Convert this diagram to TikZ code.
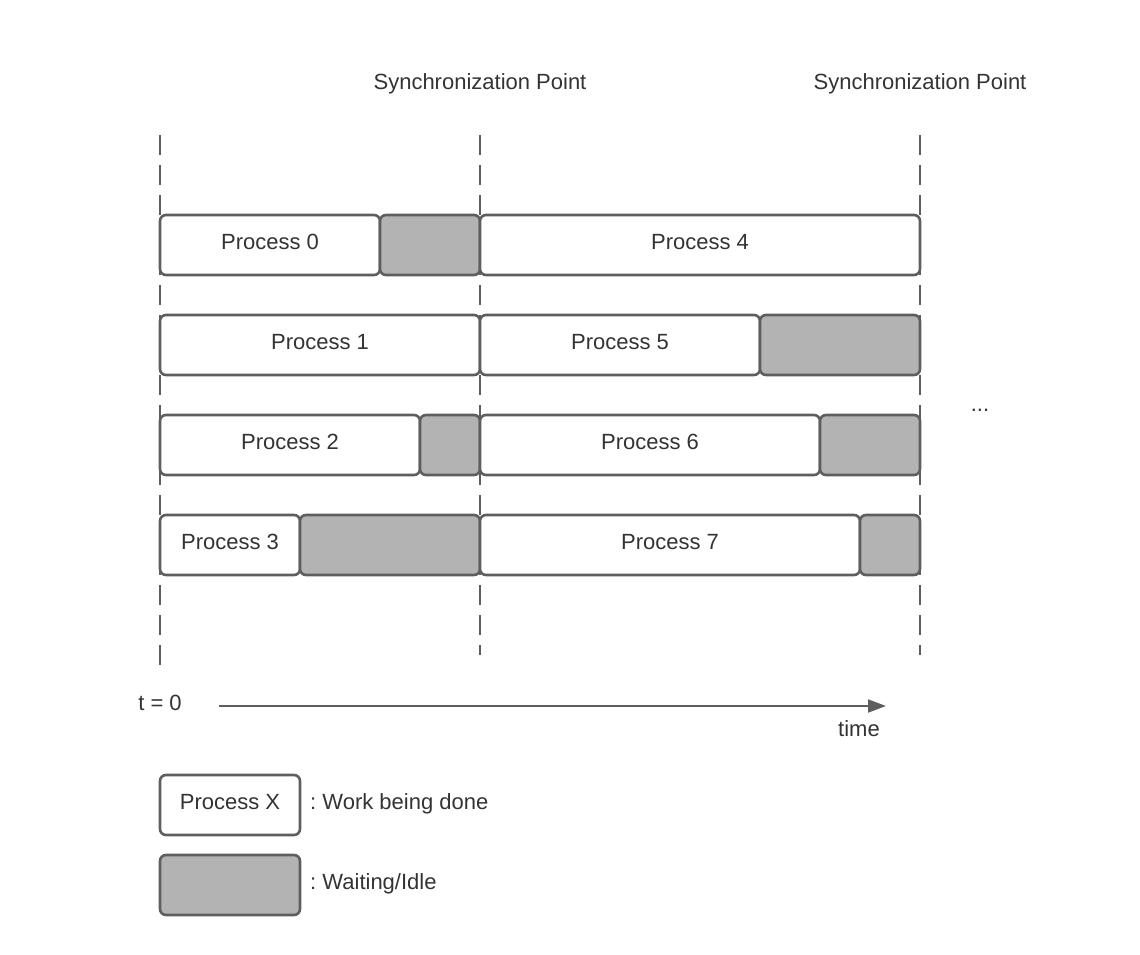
\documentclass[tikz,border=0pt]{standalone}
\usepackage{fontspec}
\setmainfont{Liberation Sans}
\usetikzlibrary{arrows.meta}
\definecolor{linec}{HTML}{5E5E5E}
\definecolor{idlec}{HTML}{B3B3B3}
\definecolor{textc}{HTML}{333333}
\frenchspacing
\begin{document}
\begin{tikzpicture}[x=1pt,y=-1pt,
  every node/.style={font=\fontsize{22}{26}\selectfont, text=textc},
  work/.style={draw=linec, line width=2.6pt, fill=white, rounded corners=6pt, inner sep=0pt, text depth=8pt, text height=17pt},
  idle/.style={draw=linec, line width=2.6pt, fill=idlec, rounded corners=6pt, inner sep=0pt},
  syncline/.style={draw=linec, line width=2pt, dash pattern=on 20pt off 10pt},
  lbl/.style={inner sep=0pt}
]
\useasboundingbox (0,0) rectangle (1140,955);
% dashed lines
\coordinate (s0t) at (160,135); \coordinate (s0b) at (160,675);
\coordinate (s1t) at (480,135); \coordinate (s1b) at (480,655);
\coordinate (s2t) at (920,135); \coordinate (s2b) at (920,655);
\draw[syncline] (s0t) -- (s0b);
\draw[syncline] (s1t) -- (s1b);
\draw[syncline] (s2t) -- (s2b);
% labels
\node[lbl] (sp1) at (480,84) {Synchronization Point};
\node[lbl] (sp2) at (920,84) {Synchronization Point};
% helper macro for boxes by corners
\newcommand{\pbox}[6]{\node[#1, minimum width={#4-#3}, minimum height=60pt, anchor=center] (#2) at ({(#3+#4)/2},{#5}) {#6};}
% row 0
\pbox{work}{p0}{160}{380}{245}{Process 0}
\pbox{idle}{i0}{380}{480}{245}{}
\pbox{work}{p4}{480}{920}{245}{Process 4}
% row 1
\pbox{work}{p1}{160}{480}{345}{Process 1}
\pbox{work}{p5}{480}{760}{345}{Process 5}
\pbox{idle}{i5}{760}{920}{345}{}
% row 2
\pbox{work}{p2}{160}{420}{445}{Process 2}
\pbox{idle}{i2}{420}{480}{445}{}
\pbox{work}{p6}{480}{820}{445}{Process 6}
\pbox{idle}{i6}{820}{920}{445}{}
% row 3
\pbox{work}{p3}{160}{300}{545}{Process 3}
\pbox{idle}{i3}{300}{480}{545}{}
\pbox{work}{p7}{480}{860}{545}{Process 7}
\pbox{idle}{i7}{860}{920}{545}{}
% dots
\node[lbl] (dots) at (980,410) {...};
% time axis
\node[lbl] (t0) at (160,703) {t = 0};
\coordinate (ta) at (219,706);
\coordinate (tb) at (886,706);
\draw[draw=linec, line width=2pt, -{Triangle[length=18pt,width=13pt]}] (ta) -- (tb);
\node[lbl] (time) at (859,729) {time};
% legend
\pbox{work}{lw}{160}{300}{805}{Process X}
\pbox{idle}{li}{160}{300}{885}{}
\node[lbl, anchor=west] (lwt) at (310,804) {: Work being done};
\node[lbl, anchor=west] (lit) at (310,884) {: Waiting/Idle};
\end{tikzpicture}
\end{document}
